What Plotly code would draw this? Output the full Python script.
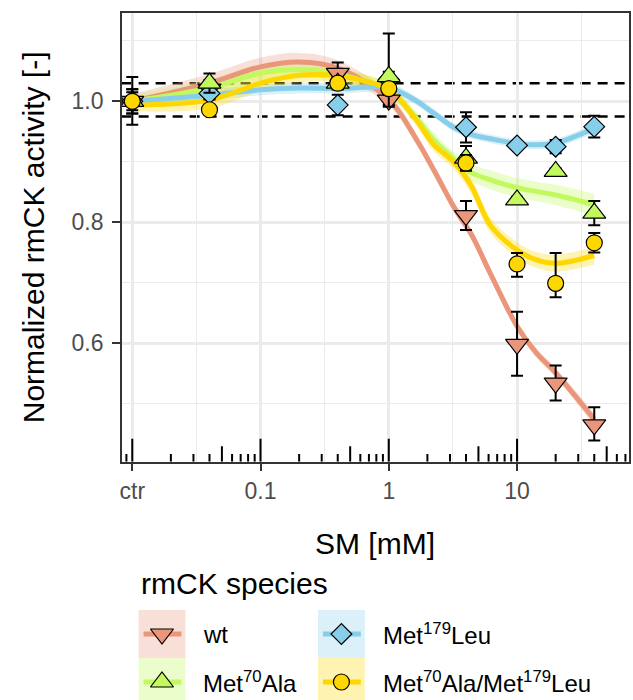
import numpy as np
import plotly.graph_objects as go

W, H = 633, 700
FONT = "Liberation Sans, Arial, sans-serif"

# ---------------- data ----------------
dose = [0.01, 0.04, 0.4, 1, 4, 10, 20, 40]          # "ctr" is drawn at 0.01 mM
x_tickvals = [0.01, 0.1, 1, 10]
x_ticktext = ["ctr", "0.1", "1", "10"]
x_minor = [10 ** -1.5, 10 ** -0.5, 10 ** 0.5, 10 ** 1.5]
y_tickvals = [0.6, 0.8, 1.0]
y_ticktext = ["0.6", "0.8", "1.0"]
y_minor = [0.5, 0.7, 0.9, 1.1]
ref_lines = [1.03, 0.975]

species = ["wt", "Met<sup>70</sup>Ala", "Met<sup>179</sup>Leu",
           "Met<sup>70</sup>Ala/Met<sup>179</sup>Leu"]

wt_y = [1.000, 1.020, 1.046, 1.002, 0.811, 0.598, 0.534, 0.465]
wt_up = [0.040, 0.015, 0.018, 0.008, 0.024, 0.054, 0.029, 0.029]
wt_dn = [0.039, 0.015, 0.018, 0.008, 0.024, 0.052, 0.029, 0.026]

m70_y = [1.000, 1.030, 1.030, 1.041, 0.906, 0.837, 0.884, 0.815]
m70_up = [0.020, 0.016, 0.010, 0.008, 0.020, 0.005, 0.005, 0.020]
m70_dn = [0.020, 0.016, 0.010, 0.008, 0.020, 0.005, 0.005, 0.020]

m179_y = [1.000, 1.013, 0.994, 1.036, 0.957, 0.927, 0.925, 0.958]
m179_up = [0.020, 0.010, 0.017, 0.076, 0.025, 0.006, 0.011, 0.018]
m179_dn = [0.020, 0.010, 0.017, 0.045, 0.025, 0.006, 0.011, 0.018]

dbl_y = [1.000, 0.986, 1.030, 1.021, 0.898, 0.731, 0.699, 0.766]
dbl_up = [0.015, 0.005, 0.010, 0.010, 0.013, 0.018, 0.050, 0.016]
dbl_dn = [0.015, 0.005, 0.010, 0.010, 0.013, 0.021, 0.023, 0.016]

# smooth (loess) fits and their confidence half-widths
fit_x = [0.01, 0.04, 0.1, 0.2, 0.4, 1, 1.6, 2.25, 3.2, 4.4, 6.2, 10, 14, 20, 40]
wt_fit = [1.000, 1.030, 1.057, 1.065, 1.055, 1.003, 0.941, 0.886, 0.826, 0.780,
          0.715, 0.628, 0.585, 0.551, 0.474]
wt_se = [0.012, 0.015, 0.015, 0.015, 0.013, 0.010, 0.009, 0.009, 0.009, 0.009,
         0.009, 0.008, 0.008, 0.008, 0.010]
m70_fit = [1.000, 1.022, 1.047, 1.052, 1.045, 1.017, 0.975, 0.936, 0.905, 0.882,
           0.870, 0.857, 0.851, 0.845, 0.829]
m70_se = [0.010, 0.015, 0.014, 0.013, 0.012, 0.010, 0.010, 0.011, 0.012, 0.014,
          0.016, 0.016, 0.016, 0.017, 0.018]
m179_fit = [1.000, 1.010, 1.019, 1.022, 1.021, 1.022, 1.002, 0.980, 0.957, 0.945,
            0.938, 0.930, 0.928, 0.931, 0.955]
m179_se = [0.008, 0.009, 0.009, 0.009, 0.008, 0.008, 0.007, 0.007, 0.007, 0.007,
           0.007, 0.007, 0.007, 0.007, 0.008]
dbl_fit = [0.994, 1.002, 1.030, 1.043, 1.042, 1.019, 0.972, 0.928, 0.900, 0.860,
           0.795, 0.754, 0.738, 0.732, 0.745]
dbl_se = [0.010, 0.014, 0.013, 0.012, 0.011, 0.010, 0.010, 0.011, 0.012, 0.013,
          0.013, 0.013, 0.013, 0.014, 0.015]

colors = ["#E9967A", "#C2F95E", "#87CEEB", "#FFD700"]
bands = ["rgba(233,150,122,0.30)", "rgba(194,249,94,0.33)",
         "rgba(135,206,235,0.30)", "rgba(255,215,0,0.30)"]
symbols = ["triangle-down", "triangle-up", "diamond", "circle"]
msizes = [20, 20, 16, 16]

series = [
    (wt_y, wt_up, wt_dn, wt_fit, wt_se),
    (m70_y, m70_up, m70_dn, m70_fit, m70_se),
    (m179_y, m179_up, m179_dn, m179_fit, m179_se),
    (dbl_y, dbl_up, dbl_dn, dbl_fit, dbl_se),
]

# ---------------- layout geometry ----------------
XRANGE = [-2.083, 1.873]      # log10
YRANGE = [0.404, 1.146]
L, R, T, B = 120, 629, 13, 461.7
px_per_y = (B - T) / (YRANGE[1] - YRANGE[0])

fig = go.Figure()

# confidence bands
for (y, up, dn, fit, se), band in zip(series, bands):
    lo = [f - s for f, s in zip(fit, se)]
    hi = [f + s for f, s in zip(fit, se)]
    fig.add_trace(go.Scatter(x=fit_x, y=lo, mode="lines", line=dict(width=0, shape="spline"),
                             hoverinfo="skip", showlegend=False))
    fig.add_trace(go.Scatter(x=fit_x, y=hi, mode="lines", line=dict(width=0, shape="spline"),
                             fill="tonexty", fillcolor=band, hoverinfo="skip", showlegend=False))

# fitted lines
for (y, up, dn, fit, se), col in zip(series, colors):
    fig.add_trace(go.Scatter(x=fit_x, y=fit, mode="lines",
                             line=dict(color=col, width=5, shape="spline"),
                             hoverinfo="skip", showlegend=False))

# log ticks (annotation_logticks style) along the bottom of the panel
lt_x, lt_y = [], []
for k in range(-3, 2):
    for m in range(1, 10):
        v = m * 10.0 ** k
        if XRANGE[0] <= np.log10(v) <= XRANGE[1]:
            ln = 23 if m == 1 else (15.5 if m == 5 else 7.7)
            lt_x += [v, v, None]
            lt_y += [YRANGE[0], YRANGE[0] + ln / px_per_y, None]
fig.add_trace(go.Scatter(x=lt_x, y=lt_y, mode="lines", line=dict(color="black", width=2),
                         hoverinfo="skip", showlegend=False))

# points with error bars (drawing order like the reference)
for i in [0, 2, 1, 3]:
    y, up, dn, fit, se = series[i]
    fig.add_trace(go.Scatter(
        x=dose, y=y, mode="markers", name=species[i],
        marker=dict(symbol=symbols[i], size=msizes[i], color=colors[i],
                    line=dict(color="black", width=1.2)),
        error_y=dict(type="data", symmetric=False, array=up, arrayminus=dn,
                     color="black", thickness=2, width=6),
        showlegend=False))

# ---------------- legend (drawn manually, ggplot style) ----------------
leg_x0 = [137, 317]
leg_y0 = [610, 658]
key_w, key_h = 47, 48
leg_pos = [(0, 0), (0, 1), (1, 0), (1, 1)]   # (column, row) for each species
shapes = []
for val in ref_lines:
    shapes.append(dict(type="line", xref="x domain", yref="y", x0=0, x1=1, y0=val, y1=val,
                       line=dict(color="black", width=2.5, dash="10px,7px"), layer="below"))
for i, (c, r) in enumerate(leg_pos):
    x0, y0 = leg_x0[c], leg_y0[r]
    shapes.append(dict(type="rect", xref="x2", yref="y2", x0=x0, x1=x0 + key_w,
                       y0=y0, y1=y0 + key_h, fillcolor=bands[i], line=dict(width=0),
                       layer="below"))
    shapes.append(dict(type="line", xref="x2", yref="y2", x0=x0 + 5, x1=x0 + key_w - 4,
                       y0=y0 + key_h / 2, y1=y0 + key_h / 2,
                       line=dict(color=colors[i], width=5), layer="below"))
    fig.add_trace(go.Scatter(
        x=[x0 + key_w / 2], y=[y0 + key_h / 2], xaxis="x2", yaxis="y2", mode="markers",
        marker=dict(symbol=symbols[i], size=msizes[i], color=colors[i],
                    line=dict(color="black", width=1.2)),
        hoverinfo="skip", showlegend=False))

annotations = []
for i, (c, r) in enumerate(leg_pos):
    annotations.append(dict(text=species[i], xref="paper", yref="paper",
                            x=(leg_x0[c] + key_w + 16) / W, y=1 - (leg_y0[r] + key_h / 2) / H,
                            xanchor="left", yanchor="middle", showarrow=False,
                            font=dict(size=24, color="black", family=FONT)))
annotations.append(dict(text="rmCK species", xref="paper", yref="paper",
                        x=137 / W, y=1 - 583 / H, xanchor="left", yanchor="middle",
                        showarrow=False, font=dict(size=30, color="black", family=FONT)))
annotations.append(dict(text="SM [mM]", xref="paper", yref="paper",
                        x=(L + R) / 2 / W, y=1 - 543 / H, xanchor="center", yanchor="middle",
                        showarrow=False, font=dict(size=30, color="black", family=FONT)))
annotations.append(dict(text="Normalized rmCK activity [-]", xref="paper", yref="paper",
                        x=31 / W, y=1 - (T + B) / 2 / H, xanchor="center", yanchor="middle",
                        textangle=-90, showarrow=False,
                        font=dict(size=30, color="black", family=FONT)))

GRID = "#EBEBEB"
fig.update_layout(
    width=W, height=H,
    margin=dict(l=0, r=0, t=0, b=0),
    paper_bgcolor="white", plot_bgcolor="rgba(0,0,0,0)",
    font=dict(family=FONT),
    showlegend=False,
    shapes=shapes, annotations=annotations,
    xaxis=dict(type="log", range=XRANGE, domain=[L / W, R / W],
               tickvals=x_tickvals, ticktext=x_ticktext,
               ticks="outside", ticklen=7.5, tickwidth=2, tickcolor="#333333",
               tickfont=dict(size=23, color="#4D4D4D", family=FONT),
               showgrid=True, gridcolor=GRID, gridwidth=2.6,
               minor=dict(tickvals=x_minor, showgrid=True, gridcolor=GRID, gridwidth=1.3,
                          ticks=""),
               showline=True, linecolor="#333333", linewidth=2, mirror=True,
               zeroline=False, fixedrange=True),
    yaxis=dict(range=YRANGE, domain=[1 - B / H, 1 - T / H],
               tickvals=y_tickvals, ticktext=y_ticktext,
               ticks="outside", ticklen=7.5, tickwidth=2, tickcolor="#333333",
               tickfont=dict(size=23, color="#4D4D4D", family=FONT),
               ticklabelstandoff=4,
               showgrid=True, gridcolor=GRID, gridwidth=2.6,
               minor=dict(tickvals=y_minor, showgrid=True, gridcolor=GRID, gridwidth=1.3,
                          ticks=""),
               showline=True, linecolor="#333333", linewidth=2, mirror=True,
               zeroline=False, fixedrange=True),
    xaxis2=dict(range=[0, W], domain=[0, 1], visible=False, fixedrange=True, anchor="y2"),
    yaxis2=dict(range=[H, H - 140], domain=[0, 140 / H], visible=False, fixedrange=True,
                anchor="x2"),
)

fig.write_html("out.html",
               config={"displayModeBar": False},
               post_script="document.body.style.margin='0px';"
                           "document.body.style.overflow='hidden';")
